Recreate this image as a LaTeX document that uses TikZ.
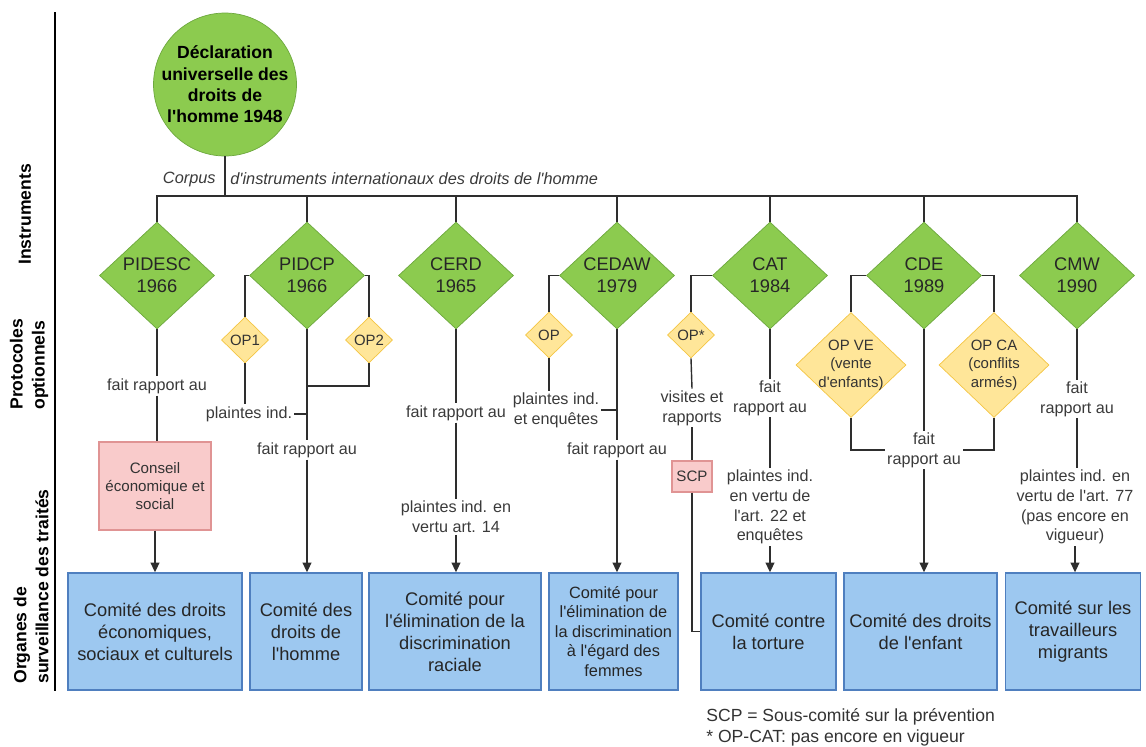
\documentclass[tikz,border=0pt]{standalone}
\usepackage{fontspec}
\setmainfont{Liberation Sans}[Ligatures=TeXOff]
\usepackage{tikz}
\usetikzlibrary{arrows.meta,positioning,shapes.geometric}
\definecolor{udhrgreen}{HTML}{8CCB4F}
\definecolor{udhrgreenline}{HTML}{6DA83E}
\definecolor{opyellow}{HTML}{FFE699}
\definecolor{opyellowline}{HTML}{F4C542}
\definecolor{bodyblue}{HTML}{9DC8F0}
\definecolor{bodyblueline}{HTML}{4F7FBF}
\definecolor{scppink}{HTML}{F9CBCB}
\definecolor{scppinkline}{HTML}{E09494}
\definecolor{linkgray}{HTML}{2E2E2E}
\definecolor{labelgray}{HTML}{3A3A3A}
\tikzset{
  treaty/.style={
    diamond,
    draw=udhrgreenline,
    fill=udhrgreen,
    aspect=1.07,
    minimum width=2.3cm,
    minimum height=2.14cm,
    inner sep=0pt,
    align=center,
    text=black!85,
    font=\fontsize{10.4}{12.5}\selectfont
  },
  protosmall/.style={
    diamond,
    draw=opyellowline,
    fill=opyellow,
    minimum width=0.94cm,
    minimum height=0.92cm,
    inner sep=0pt,
    align=center,
    text=black!80,
    font=\fontsize{8.5}{10.5}\selectfont
  },
  protobig/.style={protosmall, minimum width=2.2cm, minimum height=2.1cm, inner sep=-3pt},
  bodybox/.style={
    draw=bodyblueline,
    fill=bodyblue,
    line width=0.8pt,
    minimum height=2.34cm,
    inner sep=2pt,
    align=center,
    text=black!85,
    font=\fontsize{10.4}{12.5}\selectfont
  },
  pinkbox/.style={draw=scppinkline, fill=scppink, line width=0.7pt, align=center, inner sep=1pt, text=black!80, font=\fontsize{8.6}{10.3}\selectfont},
  linklabel/.style={align=center, inner sep=1pt, text=labelgray, font=\fontsize{9.2}{11.2}\selectfont},
  sectionlabel/.style={rotate=90, anchor=west, align=left, inner sep=0pt, font=\fontsize{10}{12.5}\selectfont\bfseries},
  link/.style={draw=linkgray, line width=0.8pt},
  arrow/.style={link, -{Triangle[length=5.5pt,width=5pt]}}
}

\begin{document}
\begin{tikzpicture}[x=0.02cm, y=-0.02cm]
  \useasboundingbox (0,0) rectangle (1146,747);
  % section rule and headings
  \draw[line width=1.2pt] (55,12) -- (55,691);
  \node[sectionlabel] (secinst) at (25,265) {Instruments};
  \node[sectionlabel] (secproto) at (29,410) {Protocoles\\optionnels};
  \node[sectionlabel] (secbodies) at (31,684) {Organes de\\surveillance des traités};

  % declaration and treaties
  \node[circle, draw=udhrgreenline, fill=udhrgreen, minimum size=2.86cm, inner sep=-4pt, align=center,
        font=\fontsize{10}{12.1}\selectfont\bfseries] (udhr) at (225,84.5)
        {Déclaration\\universelle des\\droits de\\l'homme 1948};
  \coordinate (bus) at (0,196);
  \node[anchor=east, inner sep=0pt, font=\fontsize{9.3}{11}\selectfont\itshape, text=labelgray] (corpusa) at (216,179) {Corpus};
  \node[anchor=west, inner sep=0pt, font=\fontsize{9.3}{11}\selectfont\itshape, text=labelgray] (corpusb) at (230,179) {d'instruments internationaux des droits de l'homme};
  \node[treaty] (pidesc) at (157,275.5) {PIDESC\\1966};
  \node[treaty] (pidcp) at (307,275.5) {PIDCP\\1966};
  \node[treaty] (cerd) at (456,275.5) {CERD\\1965};
  \node[treaty] (cedaw) at (617,275.5) {CEDAW\\1979};
  \node[treaty] (cat) at (770,275.5) {CAT\\1984};
  \node[treaty] (cde) at (924,275.5) {CDE\\1989};
  \node[treaty] (cmw) at (1077,275.5) {CMW\\1990};

  % optional protocols
  \node[protosmall] (op1) at (245,340) {OP1};
  \node[protosmall] (op2) at (369,340) {OP2};
  \node[protosmall] (opw) at (549,335) {OP};
  \node[protosmall] (opc) at (691,335) {OP*};
  \node[protobig] (opve) at (851,365) {OP VE\\(vente\\d'enfants)};
  \node[protobig] (opca) at (994,365) {OP CA\\(conflits\\armés)};

  % treaty bodies
  \node[pinkbox, minimum width=2.24cm, minimum height=1.76cm] (ecosoc) at (155,486) {Conseil\\économique et\\social};
  \node[pinkbox, minimum width=0.8cm, minimum height=0.62cm] (scp) at (692,476.5) {SCP};
  \node[bodybox, minimum width=3.48cm] (cescr) at (155,631.5) {Comité des droits\\économiques,\\sociaux et culturels};
  \node[bodybox, minimum width=2.24cm] (ccpr) at (306,631.5) {Comité des\\droits de\\l'homme};
  \node[bodybox, minimum width=3.44cm] (cerdc) at (455,631.5) {Comité pour\\l'élimination de la\\discrimination\\raciale};
  \node[bodybox, minimum width=2.58cm, font=\fontsize{9.3}{11.1}\selectfont] (cedawc) at (613.5,631.5) {Comité pour\\l'élimination de\\la discrimination\\à l'égard des\\femmes};
  \node[bodybox, minimum width=2.7cm] (catc) at (768.5,631.5) {Comité contre\\la torture};
  \node[bodybox, minimum width=3.06cm] (crc) at (920.5,631.5) {Comité des droits\\de l'enfant};
  \node[bodybox, minimum width=2.7cm] (cmwc) at (1073,631.5) {Comité sur les\\travailleurs\\migrants};

  % labels on the links
  \node[linklabel] (lfr1) at (157,386) {fait rapport au};
  \node[linklabel] (lpl2) at (249,414) {plaintes ind.};
  \node[linklabel] (lfr2) at (307,450) {fait rapport au};
  \node[linklabel] (lfr3) at (456,413) {fait rapport au};
  \node[linklabel] (lpl3) at (456,517) {plaintes ind. en\\vertu art. 14};
  \node[linklabel] (lpl4) at (556,410) {plaintes ind.\\et enquêtes};
  \node[linklabel] (lfr4) at (617,450) {fait rapport au};
  \node[linklabel] (lvis) at (692,408) {visites et\\rapports};
  \node[linklabel] (lfr5) at (770,398) {fait\\rapport au};
  \node[linklabel] (lpl5) at (770,507) {plaintes ind.\\en vertu de\\l'art. 22 et\\enquêtes};
  \node[linklabel] (lfr6) at (924,450) {fait\\rapport au};
  \node[linklabel] (lfr7) at (1077,399) {fait\\rapport au};
  \node[linklabel] (lpl7) at (1075,507) {plaintes ind. en\\vertu de l'art. 77\\(pas encore en\\vigueur)};
  \coordinate (join2) at (307,386);

  % corpus bus
  \draw[link] (udhr.south) -- (udhr.south |- bus);
  \draw[link] (pidesc.north) -- (pidesc.north |- bus) -- (cmw.north |- bus) -- (cmw.north);
  \draw[link] (pidcp.north) -- (pidcp.north |- bus);
  \draw[link] (cerd.north) -- (cerd.north |- bus);
  \draw[link] (cedaw.north) -- (cedaw.north |- bus);
  \draw[link] (cat.north) -- (cat.north |- bus);
  \draw[link] (cde.north) -- (cde.north |- bus);

  % PIDESC
  \draw[link] (pidesc.south) -- (lfr1.north);
  \draw[link] (lfr1.south) -- (ecosoc.north -| lfr1.south);
  \draw[arrow] (ecosoc.south) -- (cescr.north);
  % PIDCP
  \draw[link] (pidcp.west) -| (op1.north);
  \draw[link] (pidcp.east) -| (op2.north);
  \draw[link] (op1.south) -- (op1.south |- lpl2.north);
  \draw[link] (lpl2.east) -- (lpl2.east -| pidcp.south);
  \draw[link] (op2.south) |- (join2);
  \draw[link] (pidcp.south) -- (lfr2.north);
  \draw[arrow] (lfr2.south) -- (lfr2.south |- ccpr.north);
  % CERD
  \draw[link] (cerd.south) -- (lfr3.north);
  \draw[link] (lfr3.south) -- (lpl3.north);
  \draw[arrow] (lpl3.south) -- (lpl3.south |- cerdc.north);
  % CEDAW
  \draw[link] (cedaw.west) -| (opw.north);
  \draw[link] (opw.south) -- (opw.south |- lpl4.north);
  \draw[link] (lpl4.east) -- (lpl4.east -| cedaw.south);
  \draw[link] (cedaw.south) -- (lfr4.north);
  \draw[arrow] (lfr4.south) -- (lfr4.south |- cedawc.north);
  % CAT
  \draw[link] (cat.west) -| (opc.north);
  \draw[link] (opc.south) -- (lvis.north);
  \draw[link] (lvis.south) -- (scp.north);
  \draw[link] (scp.south) |- (catc.west);
  \draw[link] (cat.south) -- (lfr5.north);
  \draw[link] (lfr5.south) -- (lpl5.north);
  \draw[arrow] (lpl5.south) -- (lpl5.south |- catc.north);
  % CDE
  \draw[link] (cde.west) -| (opve.north);
  \draw[link] (cde.east) -| (opca.north);
  \draw[link] (opve.south) |- (lfr6.west);
  \draw[link] (opca.south) |- (lfr6.east);
  \draw[link] (cde.south) -- (lfr6.north);
  \draw[arrow] (lfr6.south) -- (lfr6.south |- crc.north);
  % CMW
  \draw[link] (cmw.south) -- (lfr7.north);
  \draw[link] (lfr7.south) -- (lfr7.south |- lpl7.north);
  \draw[arrow] (lpl7.south) -- (lpl7.south |- cmwc.north);

  % footnote
  \node[anchor=west, align=left, inner sep=0pt, text=black!80, font=\fontsize{10}{12}\selectfont] (note) at (706,727.5)
        {SCP = Sous-comité sur la prévention\\* OP-CAT: pas encore en vigueur};
\end{tikzpicture}
\end{document}
